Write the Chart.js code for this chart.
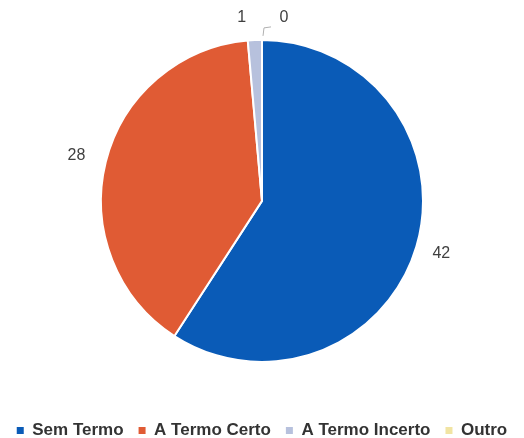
<!DOCTYPE html>
<html>
<head>
<meta charset="utf-8">
<script src="https://cdn.jsdelivr.net/npm/chart.js@4"></script>
<style>
  html, body { margin: 0; padding: 0; background: #fff; }
  #wrap { width: 524px; height: 438px; }
</style>
</head>
<body>
<div id="wrap"><canvas id="c"></canvas></div>
<script>
const categories = ['Sem Termo', 'A Termo Certo', 'A Termo Incerto', 'Outro'];
const counts = [42, 28, 1, 0];
const sliceColors = ['#0a5bb7', '#e05b34', '#b7c1dd', '#f1e4a3'];

// outside value labels, nudged for the tiny slices at the top
const labelNudge = [[0, 0], [-4, 0], [-12, 4], [22, 4]];

const outsideLabels = {
  id: 'outsideLabels',
  afterDatasetsDraw(chart) {
    const ctx = chart.ctx;
    const meta = chart.getDatasetMeta(0);
    ctx.save();
    ctx.font = '16px "Liberation Sans", Arial, sans-serif';
    ctx.fillStyle = '#404040';
    ctx.textAlign = 'center';
    ctx.textBaseline = 'middle';
    meta.data.forEach((arc, i) => {
      const mid = (arc.startAngle + arc.endAngle) / 2;
      const r = arc.outerRadius + 26;
      const x = arc.x + Math.cos(mid) * r + labelNudge[i][0];
      const y = arc.y + Math.sin(mid) * r + labelNudge[i][1];
      ctx.fillText(String(counts[i]), x, y);
      if (counts[i] === 0) {
        // leader line for the empty slice
        ctx.strokeStyle = '#b0b0b0';
        ctx.lineWidth = 1;
        ctx.beginPath();
        ctx.moveTo(arc.x + 1, arc.y - arc.outerRadius - 4);
        ctx.lineTo(arc.x + 2, arc.y - arc.outerRadius - 12);
        ctx.lineTo(arc.x + 9, arc.y - arc.outerRadius - 13);
        ctx.stroke();
      }
    });
    ctx.restore();
  }
};

const baseLabels = Chart.overrides.pie.plugins.legend.labels.generateLabels;

new Chart(document.getElementById('c'), {
  type: 'pie',
  data: {
    labels: categories,
    datasets: [{
      data: counts,
      backgroundColor: sliceColors,
      borderColor: '#ffffff',
      borderWidth: 2,
      radius: 161,
    }],
  },
  options: {
    responsive: true,
    maintainAspectRatio: false,
    animation: false,
    layout: { padding: { top: 0, bottom: -11, left: 0, right: 0 } },
    plugins: {
      tooltip: { enabled: false },
      legend: {
        position: 'bottom',
        // empty title only adds a little room above the legend row
        title: { display: true, text: '', font: { size: 1 }, padding: 2 },
        labels: {
          color: '#333',
          font: { size: 17, weight: 'bold', family: '"Liberation Sans", Arial, sans-serif' },
          boxWidth: 7,
          boxHeight: 7,
          padding: 15,
          generateLabels(chart) {
            return baseLabels(chart).map(l => ({ ...l, lineWidth: 0, strokeStyle: 'transparent' }));
          },
        },
      },
    },
  },
  plugins: [outsideLabels],
});
</script>
</body>
</html>
